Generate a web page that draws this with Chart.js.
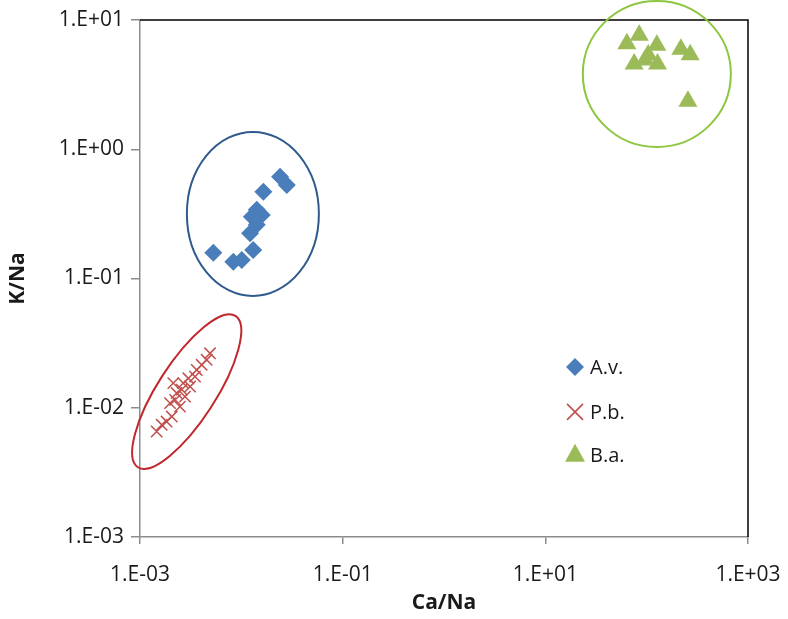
<!DOCTYPE html>
<html>
<head>
<meta charset="utf-8">
<script src="https://cdn.jsdelivr.net/npm/chart.js@4/dist/chart.umd.min.js"></script>
<style>
  html, body { margin: 0; padding: 0; background: #fff; }
  #wrap { width: 788px; height: 619px; }
</style>
</head>
<body>
<div id="wrap"><canvas id="ratioChart" width="788" height="619"></canvas></div>
<script>
// tick positions (log axes)
const xTicks = [1e-3, 1e-1, 1e1, 1e3];
const yTicks = [1e-3, 1e-2, 1e-1, 1, 10];

// A.v. (diamonds)
const avCa = [0.00529, 0.00834, 0.0101, 0.0131, 0.0122, 0.0142, 0.0127, 0.0159, 0.0142, 0.0165, 0.0241, 0.0281];
const avK  = [0.158, 0.135, 0.139, 0.166, 0.224, 0.260, 0.301, 0.310, 0.340, 0.470, 0.614, 0.530];

// P.b. (crosses)
const pbCa = [0.00146, 0.00164, 0.00183, 0.00206, 0.00248, 0.00198, 0.00222, 0.00230, 0.00258, 0.00213,
              0.00267, 0.00300, 0.00312, 0.00349, 0.00363, 0.00406, 0.00455, 0.00491, 0.00278];
const pbK  = [0.00655, 0.00738, 0.00782, 0.00855, 0.0102, 0.01086, 0.0115, 0.0130, 0.0138, 0.0155,
              0.0155, 0.0169, 0.0146, 0.0174, 0.0196, 0.0215, 0.0235, 0.0264, 0.0122];

// B.a. (triangles)
const baCa = [63.8, 84.4, 126, 75.3, 128, 96.6, 217.6, 268.7, 255.3, 103.5];
const baK  = [6.56, 7.62, 6.37, 4.57, 4.57, 4.91, 5.93, 5.39, 2.35, 5.36];

const seriesNames = ['A.v.', 'P.b.', 'B.a.'];

// group outlines: centre in data units, semi-axes in px
const groupRings = [
  { ca: 0.0130, k: 0.316, rx: 66, ry: 82, rot: 0, color: '#2F5A8C' },
  { ca: 0.00289, k: 0.01334, rx: 90, ry: 29, rot: -57.2, color: '#C1272D' },
  { ca: 126, k: 3.82, rx: 74, ry: 73, rot: 0, color: '#8DC63F' }
];

const BLUE = '#4A7EBB';
const RED = '#C0504D';
const GREEN = '#9BBB59';
const AXIS_GREY = '#8C8C8C';
const TEXT = '#1a1a1a';
const FONT = '"Open Sans", Lato, sans-serif';

function toPoints(xs, ys) {
  return xs.map((x, i) => ({ x: x, y: ys[i] }));
}

function expLabel(v) {
  const e = Math.round(Math.log10(v));
  const sign = e < 0 ? '-' : '+';
  return '1.E' + sign + String(Math.abs(e)).padStart(2, '0');
}

// frame + ellipses + legend
const decorPlugin = {
  id: 'decor',
  beforeDatasetsDraw(chart) {
    const { ctx, chartArea: a } = chart;
    ctx.save();
    ctx.strokeStyle = '#000';
    ctx.lineWidth = 1.5;
    ctx.beginPath();
    ctx.moveTo(a.left, a.top);
    ctx.lineTo(a.right, a.top);
    ctx.lineTo(a.right, a.bottom);
    ctx.stroke();
    ctx.restore();
  },
  afterDatasetsDraw(chart) {
    const { ctx, chartArea: a, scales } = chart;
    ctx.save();
    groupRings.forEach(r => {
      const cx = scales.x.getPixelForValue(r.ca);
      const cy = scales.y.getPixelForValue(r.k);
      ctx.beginPath();
      ctx.ellipse(cx, cy, r.rx, r.ry, r.rot * Math.PI / 180, 0, Math.PI * 2);
      ctx.strokeStyle = r.color;
      ctx.lineWidth = 2;
      ctx.stroke();
    });

    // legend inside plot
    const lx = a.left + a.width * 0.7155;
    const rows = [0.671, 0.758, 0.841].map(f => a.top + a.height * f);
    ctx.font = '20px ' + FONT;
    ctx.fillStyle = TEXT;
    ctx.textBaseline = 'middle';
    chart.data.datasets.forEach((ds, i) => {
      const y = rows[i];
      ctx.save();
      if (ds.pointStyle === 'rectRot') {
        ctx.fillStyle = ds.backgroundColor;
        ctx.beginPath();
        ctx.moveTo(lx - 9, y); ctx.lineTo(lx, y - 9); ctx.lineTo(lx + 9, y); ctx.lineTo(lx, y + 9);
        ctx.closePath();
        ctx.fill();
      } else if (ds.pointStyle === 'crossRot') {
        ctx.strokeStyle = ds.borderColor;
        ctx.lineWidth = 1.6;
        ctx.beginPath();
        ctx.moveTo(lx - 8, y - 8); ctx.lineTo(lx + 8, y + 8);
        ctx.moveTo(lx + 8, y - 8); ctx.lineTo(lx - 8, y + 8);
        ctx.stroke();
      } else {
        ctx.fillStyle = ds.backgroundColor;
        ctx.beginPath();
        ctx.moveTo(lx, y - 11); ctx.lineTo(lx + 10, y + 7); ctx.lineTo(lx - 10, y + 7);
        ctx.closePath();
        ctx.fill();
      }
      ctx.restore();
      ctx.fillText(ds.label, lx + 15, y + 1);
    });
    ctx.restore();
  }
};

const ctx = document.getElementById('ratioChart').getContext('2d');
new Chart(ctx, {
  type: 'scatter',
  data: {
    datasets: [
      {
        label: seriesNames[0],
        data: toPoints(avCa, avK),
        pointStyle: 'rectRot',
        pointRadius: 9,
        backgroundColor: BLUE,
        borderColor: BLUE,
        borderWidth: 0
      },
      {
        label: seriesNames[1],
        data: toPoints(pbCa, pbK),
        pointStyle: 'crossRot',
        pointRadius: 8,
        backgroundColor: RED,
        borderColor: RED,
        borderWidth: 1.5
      },
      {
        label: seriesNames[2],
        data: toPoints(baCa, baK),
        pointStyle: 'triangle',
        pointRadius: 11,
        backgroundColor: GREEN,
        borderColor: GREEN,
        borderWidth: 0
      }
    ]
  },
  options: {
    responsive: false,
    animation: false,
    layout: { padding: { top: 20, right: 40, left: 0, bottom: 0 } },
    plugins: {
      legend: { display: false },
      tooltip: { enabled: false }
    },
    scales: {
      x: {
        type: 'logarithmic',
        min: 1e-3,
        max: 1e3,
        afterBuildTicks: s => { s.ticks = xTicks.map(v => ({ value: v })); },
        afterFit: s => { s.height = 82; s.paddingLeft = 0; s.paddingRight = 0; },
        grid: { display: true, drawOnChartArea: false, drawTicks: true, tickLength: 7, color: AXIS_GREY, lineWidth: 1.5 },
        border: { display: true, color: AXIS_GREY, width: 1.5 },
        ticks: {
          autoSkip: false,
          maxRotation: 0,
          padding: 18,
          color: TEXT,
          font: { family: FONT, size: 21 },
          callback: v => expLabel(v)
        },
        title: {
          display: true,
          text: 'Ca/Na',
          color: TEXT,
          font: { family: FONT, size: 21, weight: 'bold' },
          padding: { top: 0, bottom: 3 }
        }
      },
      y: {
        type: 'logarithmic',
        min: 1e-3,
        max: 10,
        afterBuildTicks: s => { s.ticks = yTicks.map(v => ({ value: v })); },
        afterFit: s => { s.width = 140; s.paddingTop = 0; s.paddingBottom = 0; },
        grid: { display: true, drawOnChartArea: false, drawTicks: true, tickLength: 9, color: AXIS_GREY, lineWidth: 1.5 },
        border: { display: true, color: AXIS_GREY, width: 1.5 },
        ticks: {
          autoSkip: false,
          padding: 7,
          color: TEXT,
          font: { family: FONT, size: 21 },
          callback: v => expLabel(v)
        },
        title: {
          display: true,
          text: 'K/Na',
          color: TEXT,
          font: { family: FONT, size: 21, weight: 'bold' },
          padding: { top: 5, bottom: 0 }
        }
      }
    }
  },
  plugins: [decorPlugin]
});
</script>
</body>
</html>
